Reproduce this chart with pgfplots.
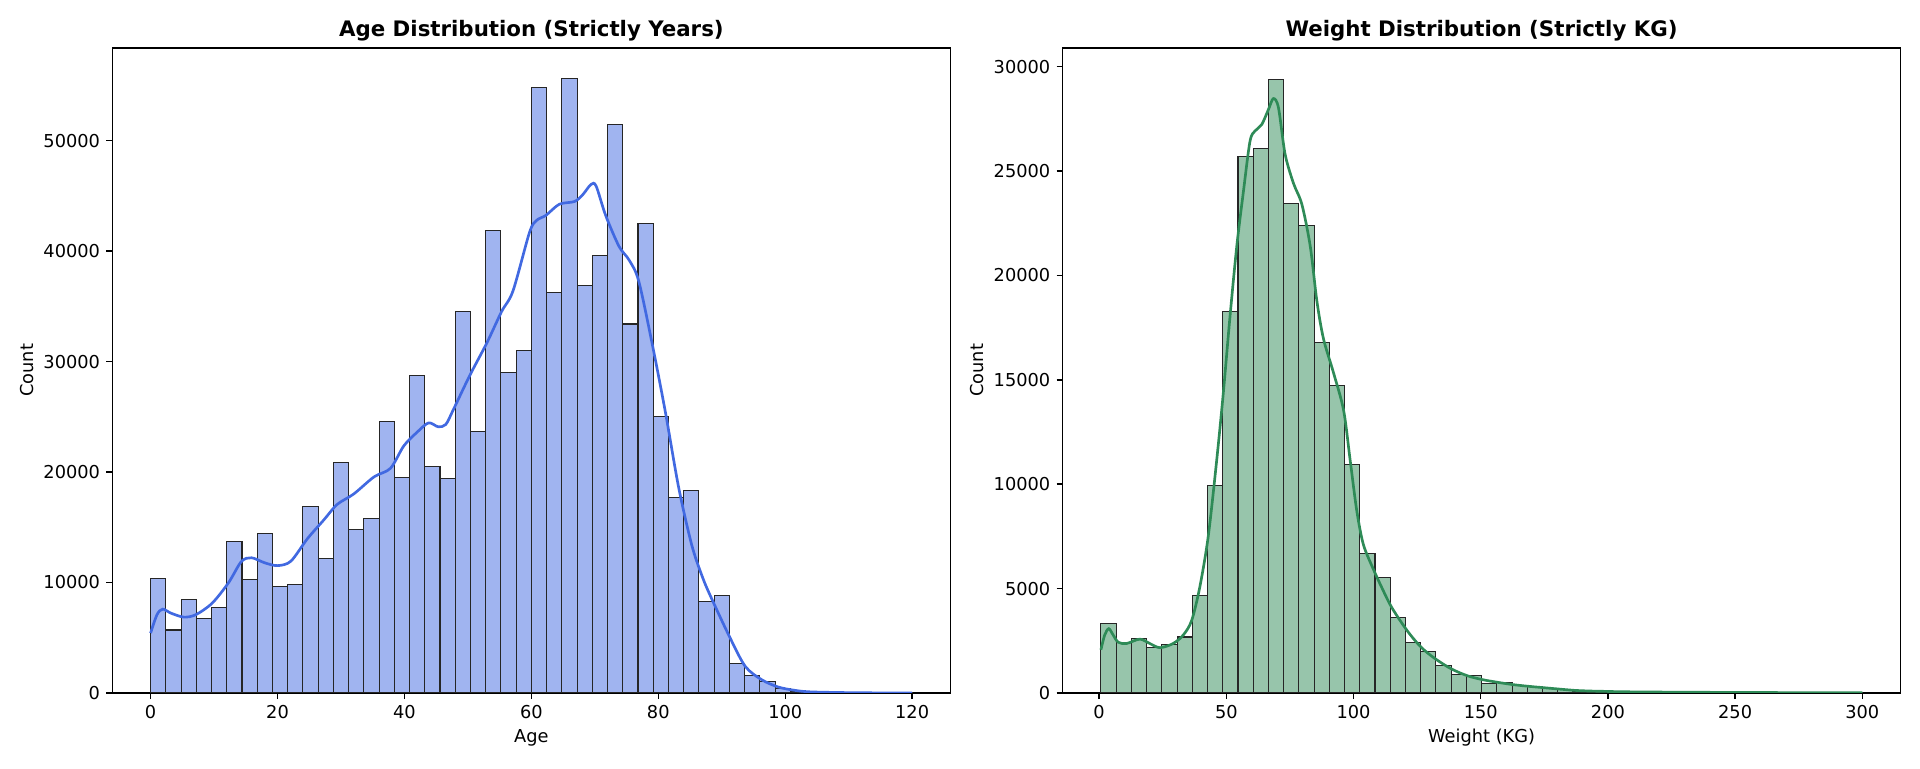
\documentclass[border=0pt]{standalone}
\usepackage{pgfplots}
\pgfplotsset{compat=1.18}
\usepackage{fontspec}
\setmainfont{DejaVu Sans}
\definecolor{ageface}{HTML}{A0B4F0}
\definecolor{ageline}{HTML}{4169E1}
\definecolor{wface}{HTML}{97C5AB}
\definecolor{wline}{HTML}{2E8B57}
\pgfplotsset{
  histstyle/.style={
    scale only axis, width=471.2pt, height=362.9pt, anchor=south west,
    axis line style={line width=0.8pt, black},
    tick align=outside, xtick pos=bottom, ytick pos=left,
    major tick length=3.5pt,
    every tick/.style={line width=0.8pt, black},
    tick label style={font=\fontsize{10}{12}\selectfont},
    /pgf/number format/assume math mode=true,
    /pgf/number format/1000 sep={},
    scaled y ticks=false, scaled x ticks=false,
    ymin=0,
    every axis title/.style={font=\bfseries\fontsize{12}{14}\selectfont, at={(0.5,1)}, anchor=base, yshift=6.5pt},
    label style={font=\fontsize{10}{12}\selectfont},
    xlabel style={at={(axis description cs:0.5,0)}, anchor=base, yshift=-28pt},
    ylabel style={at={(axis description cs:-0.102,0.5)}, anchor=center},
  }
}
\pgfplotstableread{
x y
0 10400
2.4 5700
4.8 8500
7.2 6700
9.6 7700
12.0 13700
14.4 10300
16.8 14400
19.2 9600
21.6 9850
24.0 16900
26.4 12200
28.8 20900
31.2 14800
33.6 15800
36.0 24600
38.4 19500
40.8 28700
43.2 20500
45.6 19400
48.0 34500
50.4 23700
52.8 41900
55.2 29000
57.6 31000
60.0 54850
62.4 36250
64.8 55650
67.2 36900
69.6 39600
72.0 51500
74.4 33400
76.8 42500
79.2 25000
81.6 17700
84.0 18300
86.4 8300
88.8 8800
91.2 2700
93.6 1550
96.0 1080
98.4 400
100.8 180
103.2 90
105.6 50
108.0 30
110.4 15
112.8 10
115.2 5
117.6 3
120.0 0
}\agebins
\pgfplotstableread{
x y
0 5420
1.0 7080
1.9 7590
3.2 7230
5.2 6870
7.1 7080
9.7 8130
12.3 10000
14.3 11900
15.9 12240
18.0 11780
20.0 11530
22.1 11930
24.7 13960
27.3 15670
29.4 17070
32.0 18010
35.2 19560
37.8 20340
39.9 22370
42.0 23610
43.8 24450
45.3 24100
46.5 24300
47.7 25640
50.3 28750
53.0 31710
55.3 34520
57.1 36390
59.7 41680
60.8 42770
62.3 43240
64.4 44240
66.8 44490
68.1 45110
69.4 46040
70.2 45890
71.7 43240
73.8 40440
75.4 39190
76.9 37320
79.0 31710
81.1 25480
83.2 18630
85.3 13330
87.1 10280
88.6 8300
91.2 5120
93.7 2410
96.3 1200
98.9 540
101.5 240
104.0 100
110.0 30
115.0 10
120.0 3
}\agekde
\pgfplotstableread{
x y
0.7 3320
6.686 2400
12.672 2600
18.658 2180
24.644 2320
30.63 2680
36.616 4670
42.602 9940
48.588 18290
54.574 25690
60.56 26100
66.546 29400
72.532 23440
78.518 22410
84.504 16800
90.49 14710
96.476 10930
102.462 6680
108.448 5530
114.434 3630
120.42 2430
126.406 1980
132.392 1300
138.378 900
144.364 850
150.35 450
156.336 500
162.322 350
168.308 320
174.294 220
180.28 160
186.266 95
192.252 65
198.238 45
204.224 35
210.21 28
216.196 22
222.182 18
228.168 15
234.154 12
240.14 10
246.126 8
252.112 6
258.098 5
264.084 4
270.07 3
276.056 3
282.042 2
288.028 2
294.014 2
300.0 0
}\wbins
\pgfplotstableread{
x y
0.7 2070
2.2 2780
3.8 3080
5.5 2780
7.5 2430
10.8 2370
16.0 2580
19.9 2370
23.9 2170
29.1 2370
33.1 2780
36.4 3480
39.6 5090
42.9 7510
46.2 11130
48.8 14350
51.4 17970
54.1 21390
56.7 24000
59.3 26420
61.3 26920
63.9 27220
66.5 27930
68.5 28470
70.5 28030
73.1 25810
76.4 24410
79.7 23400
83.0 21390
85.6 18770
88.2 16960
92.1 15350
96.1 13540
98.7 11130
101.3 8710
103.9 7100
107.9 5900
111.3 5000
115.0 4100
121.0 3000
126.5 2200
132.0 1650
138.5 1150
144.9 820
150.8 636
156.7 510
162.7 400
168.8 320
174.7 254
180.6 190
186.7 127
192.6 95
199.8 75
205.0 60
218.7 45
245.7 28
270.0 18
300.0 10
}\wkde
\begin{document}
\begin{tikzpicture}
\useasboundingbox (0,0) rectangle (1080pt,432pt);
\begin{axis}[histstyle, at={(63.3pt,42.2pt)},
  xmin=-6, xmax=126, ymax=58400,
  xtick={0,20,...,120}, ytick={0,10000,...,50000},
  title={Age Distribution (Strictly Years)}, xlabel={Age}, ylabel={Count}]
\addplot[ybar interval, fill=ageface, draw=black!85, line width=0.6pt] table {\agebins};
\addplot[ageline, line width=1.5pt, smooth, no markers] table {\agekde};
\end{axis}
\begin{axis}[histstyle, at={(597.8pt,42.2pt)},
  xmin=-14.3, xmax=315, ymax=30900,
  xtick={0,50,...,300}, ytick={0,5000,...,30000},
  title={Weight Distribution (Strictly KG)}, xlabel={Weight (KG)}, ylabel={Count}]
\addplot[ybar interval, fill=wface, draw=black!85, line width=0.6pt] table {\wbins};
\addplot[wline, line width=1.5pt, smooth, no markers] table {\wkde};
\end{axis}
\end{tikzpicture}
\end{document}
